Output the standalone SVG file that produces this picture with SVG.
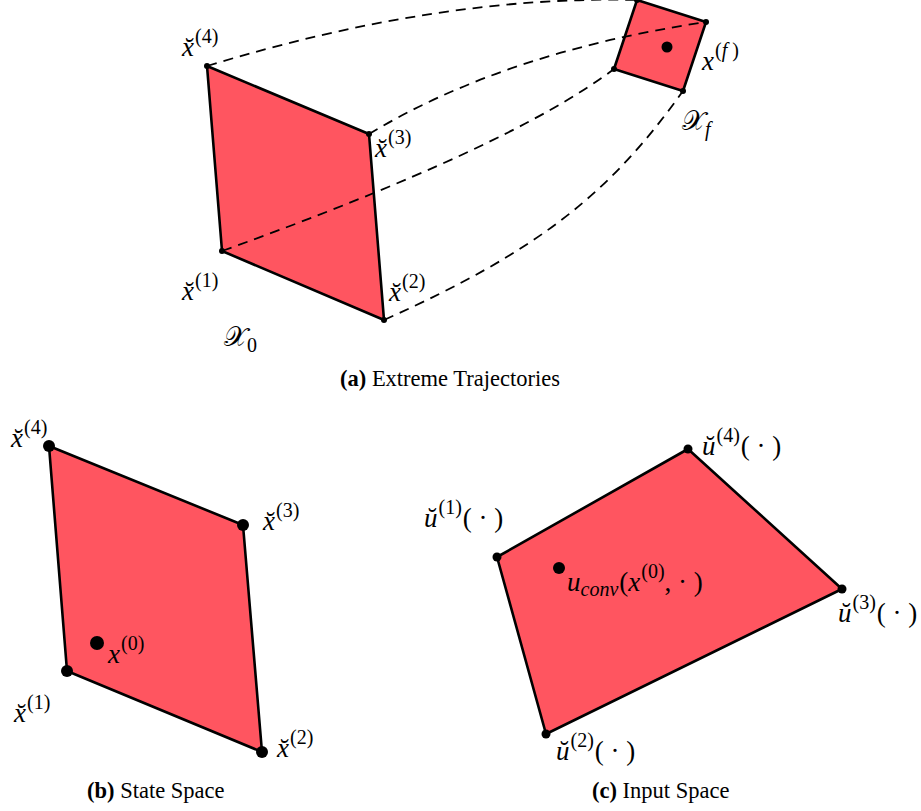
<svg xmlns="http://www.w3.org/2000/svg" width="921" height="811" viewBox="0 0 921 811">
<style>
.poly{fill:#FF5560;stroke:#000;stroke-width:2.6;stroke-linejoin:round}
.dash{fill:none;stroke:#000;stroke-width:1.8;stroke-dasharray:10 7}
.m{font-family:"Liberation Serif",serif;font-size:27px;fill:#000}
.i{font-style:italic}
.sup{font-size:20px}
.cap{font-family:"Liberation Serif",serif;font-size:22.5px;fill:#000}
.b{font-weight:bold}
</style>
<rect width="921" height="811" fill="#fff"/>
<!-- Panel (a) -->
<g id="a-X0">
<polygon class="poly" points="207,66 369,134 384,320 222,251"/>
</g>
<g id="a-Xf">
<polygon class="poly" points="637,0 706,22 683,91 614,69"/>
<circle cx="667" cy="47" r="5.5"/>
</g>
<g id="a-connectors">
<path class="dash" d="M207,66 Q440,-5 637,0"/>
<path class="dash" d="M369,134 Q505,52 706,22"/>
<path class="dash" d="M222,251 Q509,148 614,69"/>
<path class="dash" d="M384,320 C540,250 610,193 683,91"/>
</g>
<g id="a-dots">
<circle cx="207" cy="66" r="3"/>
<circle cx="369" cy="134" r="3"/>
<circle cx="384" cy="320" r="3"/>
<circle cx="222" cy="251" r="3"/>
<circle cx="637" cy="0" r="3"/>
<circle cx="706" cy="22" r="3"/>
<circle cx="683" cy="91" r="3"/>
<circle cx="614" cy="69" r="3"/>
</g>
<g id="a-labels">
<text class="m" x="182" y="56"><tspan class="i">x̆</tspan><tspan class="sup" dx="1" dy="-13">(4)</tspan></text>
<text class="m" x="375" y="157"><tspan class="i">x̆</tspan><tspan class="sup" dx="1" dy="-13">(3)</tspan></text>
<text class="m" x="182" y="300"><tspan class="i">x̆</tspan><tspan class="sup" dx="1" dy="-13">(1)</tspan></text>
<text class="m" x="389" y="301"><tspan class="i">x̆</tspan><tspan class="sup" dx="1" dy="-13">(2)</tspan></text>
<text class="m" x="702" y="70"><tspan class="i">x</tspan><tspan class="sup" dx="1" dy="-13">(<tspan class="i">f</tspan> )</tspan></text>
<text class="m" x="224" y="346">𝒳<tspan class="sup" dy="6">0</tspan></text>
<text class="m" x="682" y="130">𝒳<tspan class="sup i" dy="6">f</tspan></text>
<text class="cap" x="340" y="386"><tspan class="b">(a)</tspan> Extreme Trajectories</text>
</g>
<!-- Panel (b) -->
<g id="b-state">
<polygon class="poly" points="49,446 243,525 262,752 67,671"/>
<circle cx="49" cy="446" r="6"/>
<circle cx="243" cy="525" r="6"/>
<circle cx="262" cy="752" r="6"/>
<circle cx="67" cy="671" r="6"/>
<circle cx="97" cy="643" r="7"/>
</g>
<g id="b-labels">
<text class="m" x="11" y="447"><tspan class="i">x̆</tspan><tspan class="sup" dx="1" dy="-13">(4)</tspan></text>
<text class="m" x="263" y="530"><tspan class="i">x̆</tspan><tspan class="sup" dx="1" dy="-13">(3)</tspan></text>
<text class="m" x="14" y="722"><tspan class="i">x̆</tspan><tspan class="sup" dx="1" dy="-13">(1)</tspan></text>
<text class="m" x="277" y="757"><tspan class="i">x̆</tspan><tspan class="sup" dx="1" dy="-13">(2)</tspan></text>
<text class="m" x="108" y="663"><tspan class="i">x</tspan><tspan class="sup" dx="1" dy="-13">(0)</tspan></text>
<text class="cap" x="87" y="798"><tspan class="b">(b)</tspan> State Space</text>
</g>
<!-- Panel (c) -->
<g id="c-input">
<polygon class="poly" points="688,449 842,589 546,734 497,557"/>
<circle cx="688" cy="449" r="4.5"/>
<circle cx="842" cy="589" r="4.5"/>
<circle cx="546" cy="734" r="4.5"/>
<circle cx="497" cy="557" r="4.5"/>
<circle cx="559" cy="568" r="6"/>
</g>
<g id="c-labels">
<text class="m" x="702" y="455"><tspan class="i">ŭ</tspan><tspan class="sup" dx="1" dy="-13">(4)</tspan><tspan dx="1" dy="13">( · )</tspan></text>
<text class="m" x="424" y="527"><tspan class="i">ŭ</tspan><tspan class="sup" dx="1" dy="-13">(1)</tspan><tspan dx="1" dy="13">( · )</tspan></text>
<text class="m" x="838" y="622"><tspan class="i">ŭ</tspan><tspan class="sup" dx="1" dy="-13">(3)</tspan><tspan dx="1" dy="13">( · )</tspan></text>
<text class="m" x="556" y="760"><tspan class="i">ŭ</tspan><tspan class="sup" dx="1" dy="-13">(2)</tspan><tspan dx="1" dy="13">( · )</tspan></text>
<text class="m" x="567" y="591"><tspan class="i">u</tspan><tspan class="sup i" dy="5">conv</tspan><tspan dx="1" dy="-5">(</tspan><tspan class="i">x</tspan><tspan class="sup" dx="1" dy="-13">(0)</tspan><tspan dy="13">,  · )</tspan></text>
<text class="cap" x="592" y="798"><tspan class="b">(c)</tspan> Input Space</text>
</g>
</svg>
